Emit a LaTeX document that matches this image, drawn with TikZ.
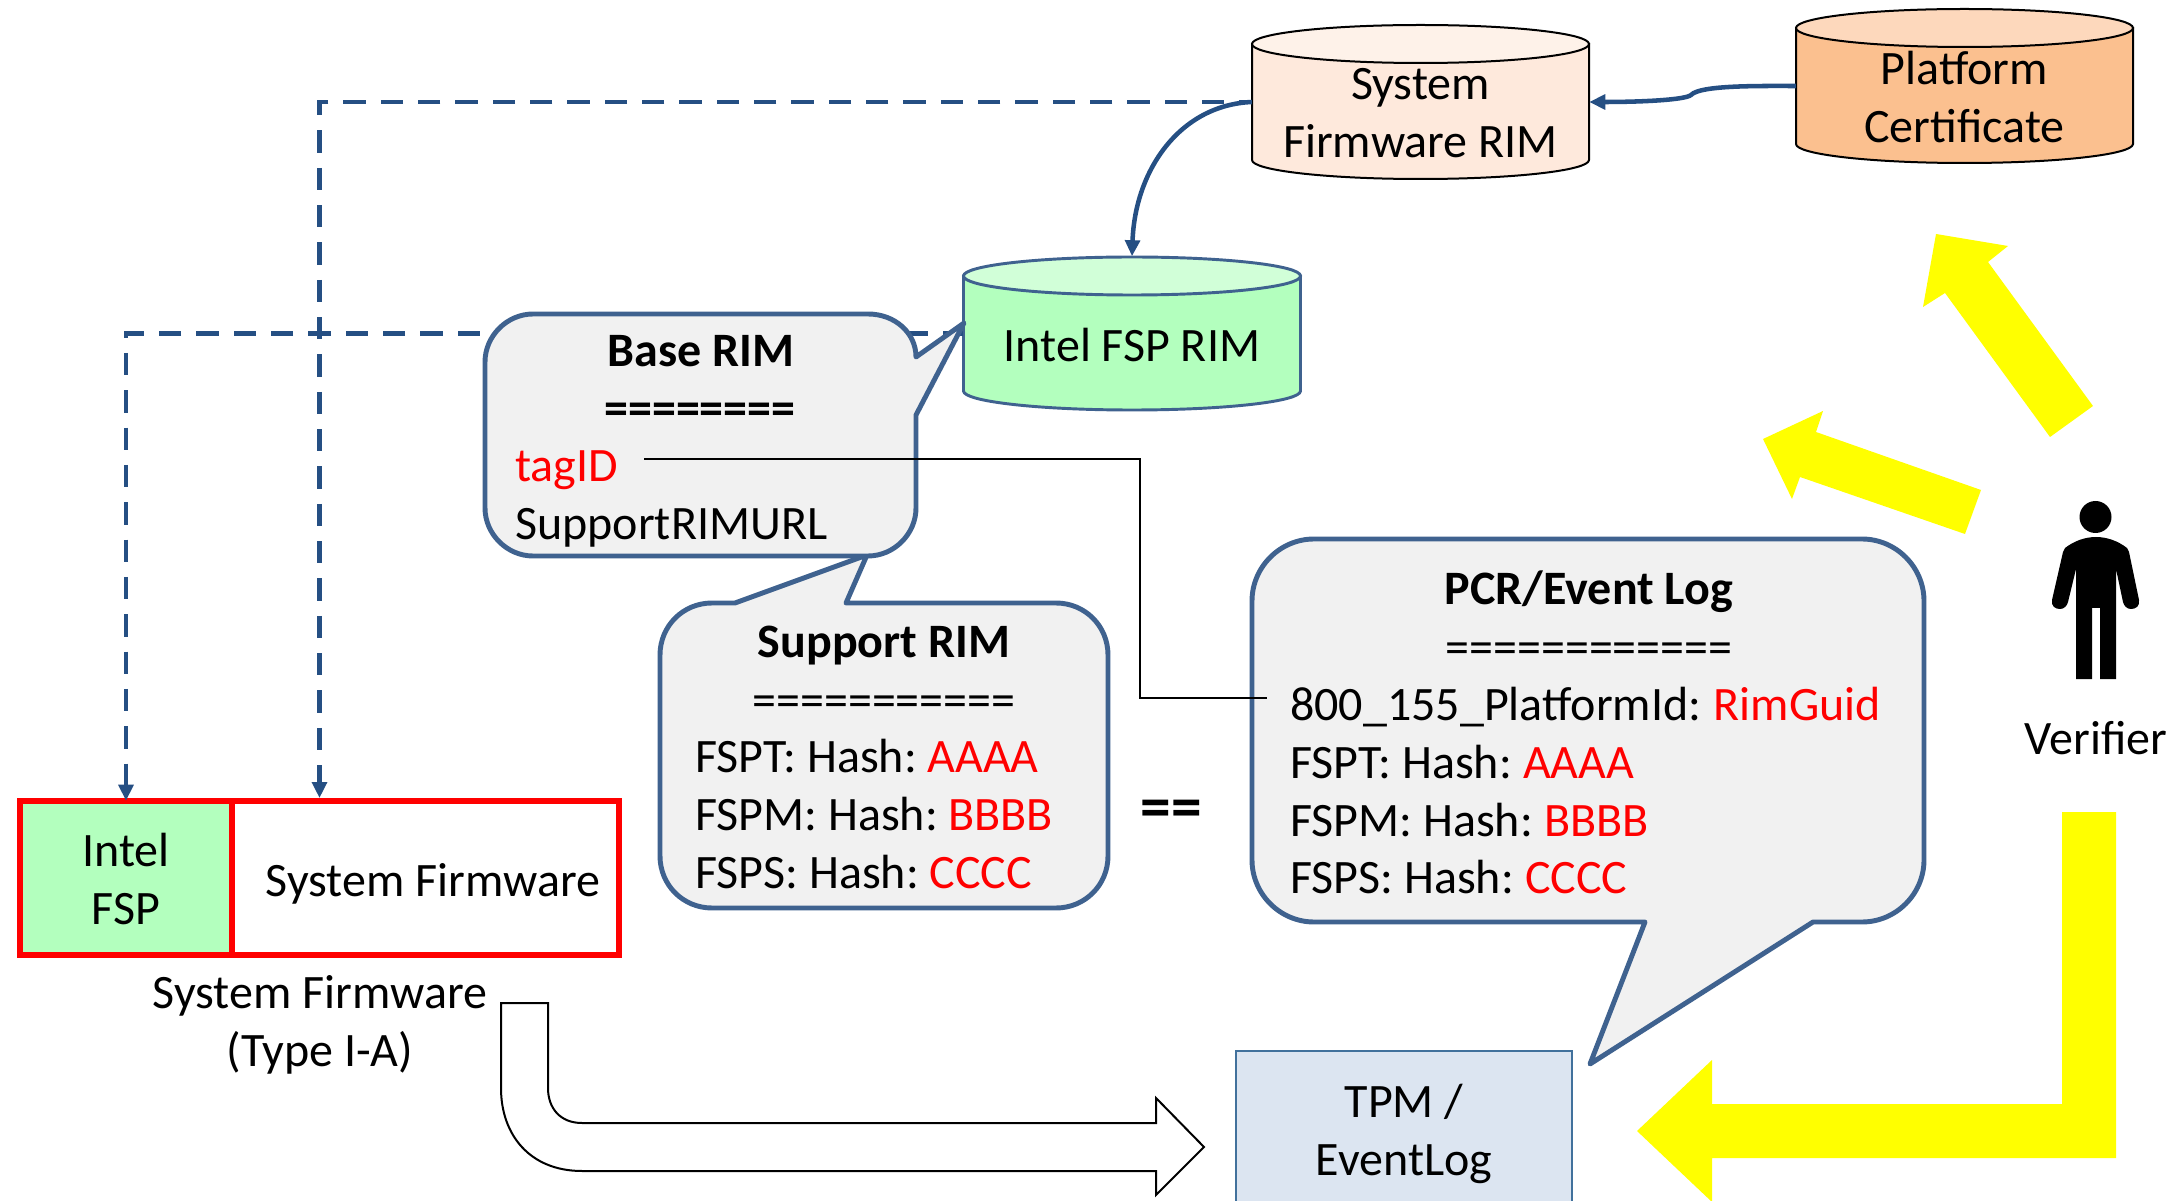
\documentclass[tikz,border=0pt]{standalone}
\usepackage{fontspec}
\setmainfont{Carlito}
\usetikzlibrary{arrows.meta}
\definecolor{navy}{HTML}{254F83}
\definecolor{calloutblue}{HTML}{3F628F}
\definecolor{calloutfill}{HTML}{F1F1F1}
\definecolor{fspgreen}{HTML}{B3FFBE}
\definecolor{fsptop}{HTML}{D1FFD8}
\definecolor{sysbody}{HTML}{FEE9DC}
\definecolor{systop}{HTML}{FEF2E9}
\definecolor{platbody}{HTML}{FBC08F}
\definecolor{plattop}{HTML}{FDD8BC}
\definecolor{tpmfill}{HTML}{DCE5F1}
\definecolor{tpmline}{HTML}{41719C}
\definecolor{hotyellow}{HTML}{FFFF00}
\tikzset{
  tx/.style={font=\fontsize{36}{43.5}\selectfont,inner sep=0pt,text=black},
  line west/.style={tx,anchor=mid west},
  line mid/.style={tx,anchor=mid},
  callout/.style={draw=calloutblue,fill=calloutfill,line width=3.7pt,line join=round},
  cylbox/.style={minimum width=252.75pt,minimum height=115.5pt,inner sep=0pt,draw=none},
  dashlink/.style={draw=navy,line width=3.4pt,-{Triangle[length=12pt,width=11pt]}},
  solidlink/.style={draw=navy,line width=3.4pt,-{Triangle[length=12pt,width=11pt]}},
  fwbox/.style={minimum height=115.5pt,inner sep=0pt},
  fwline/.style={draw=red,line width=4.4pt},
  yarrow/.style={fill=hotyellow,draw=none},
}
\newcommand{\red}[1]{\textcolor{red}{#1}}
% name, cx, top, bottom, body, end, stroke, stroke width, text
\newcommand{\cylnode}[9]{%
  \path[fill=#5,draw=#7,line width=#8] (#2-168.5,#3+19) -- (#2-168.5,#4-19)
    .. controls (#2-168.5,#4-8.5) and (#2-93,#4) .. (#2,#4)
    .. controls (#2+93,#4) and (#2+168.5,#4-8.5) .. (#2+168.5,#4-19)
    -- (#2+168.5,#3+19) -- cycle;
  \path[fill=#6,draw=#7,line width=#8] (#2-168.5,#3+19)
    .. controls (#2-168.5,#3+8.5) and (#2-93,#3) .. (#2,#3)
    .. controls (#2+93,#3) and (#2+168.5,#3+8.5) .. (#2+168.5,#3+19)
    .. controls (#2+168.5,#3+29.5) and (#2+93,#3+38) .. (#2,#3+38)
    .. controls (#2-93,#3+38) and (#2-168.5,#3+29.5) .. (#2-168.5,#3+19) -- cycle;
  \node[cylbox] (#1) at (#2,{(#3+#4)/2}) {};
  \node[tx,align=center] (#1text) at (#2,{(#3+#4)/2+11.5}) {#9};
}
\begin{document}
\begin{tikzpicture}[x=0.75pt,y=-0.75pt]
\useasboundingbox (0,0) rectangle (2175,1201);
\clip (0,0) rectangle (2175,1201);
\fill[white] (0,0) rectangle (2175,1201);

% firmware block
\node[fwbox,fill=fspgreen,minimum width=159pt,tx] (fsp) at (126,878) {};
\node[tx,align=center] (fsptext) at (126,879) {Intel\\FSP};
\node[fwbox,minimum width=449.25pt,fwline] (fw) at (319.5,878) {};
\draw[fwline] (232,801) -- (232,955);
\node[line mid] (fwtext) at (433,893) {System Firmware};
\node[tx,align=center] (fwcaption) at (320,1025) {System Firmware\\(Type I-A)};

% cylinders
\cylnode{sysrim}{1420.5}{25}{179}{sysbody}{systop}{black}{1.5pt}{System\\Firmware RIM}
\cylnode{platcert}{1964.5}{9}{163}{platbody}{plattop}{black}{1.5pt}{Platform\\Certificate}
\cylnode{fsprim}{1132}{257}{410}{fspgreen}{fsptop}{calloutblue}{2.2pt}{Intel FSP RIM}

% connectors behind call-outs
\draw[dashlink,dash pattern=on 16.7pt off 11.3pt,dash phase=7.5pt] (sysrim.west) -| (fw.north);
\draw[dashlink,dash pattern=on 16.7pt off 11.3pt,dash phase=1.5pt] (fsprim.west) -| (fsp.north);
\draw[solidlink] (sysrim.west) .. controls (1180,105) and (1135,170) .. (fsprim.north);
\draw[solidlink] (platcert.west) .. controls (1760,86) and (1700,85) .. (1691,95)
   .. controls (1685,100) and (1640,102) .. (sysrim.east);

% call-outs
\path[callout] (846,603) -- (1056,603) .. controls (1085,603) and (1108,626) .. (1108,655)
   -- (1108,856) .. controls (1108,885) and (1085,908) .. (1056,908)
   -- (712,908) .. controls (683,908) and (660,885) .. (660,856)
   -- (660,655) .. controls (660,626) and (683,603) .. (712,603)
   -- (735,603) -- (867,555) -- cycle;
\path[callout] (916,415) -- (916,508) .. controls (916,534) and (894,556) .. (868,556)
   -- (533,556) .. controls (507,556) and (485,534) .. (485,508)
   -- (485,362) .. controls (485,336) and (507,314) .. (533,314)
   -- (868,314) .. controls (895,314) and (916,333) .. (916,357) -- (964,323) -- cycle;
\path[callout] (1813,922) -- (1862,922) .. controls (1896,922) and (1924,894) .. (1924,860)
   -- (1924,601) .. controls (1924,567) and (1896,539) .. (1862,539)
   -- (1314,539) .. controls (1280,539) and (1252,567) .. (1252,601)
   -- (1252,860) .. controls (1252,894) and (1280,922) .. (1314,922)
   -- (1645,922) -- (1590,1064) -- cycle;

% Base RIM text
\node[line mid] (basetitle) at (701,363) {\bfseries Base RIM};
\node[line mid] (baserule) at (700,421) {\bfseries ========};
\node[line west] (tagid) at (515,478) {\red{tagID}};
\node[line west] (supporturl) at (515,536) {SupportRIMURL};

% Support RIM text
\node[line mid] (supptitle) at (884,654) {\bfseries Support RIM};
\node[line mid] (supprule) at (884,713) {===========};
\node[line west] (suppa) at (695,769) {FSPT: Hash:\kern-3pt{} \red{AAAA}};
\node[line west] (suppb) at (695,827) {FSPM: Hash:\kern-3pt{} \red{BBBB}};
\node[line west] (suppc) at (695,885) {FSPS: Hash:\kern-3pt{} \red{CCCC}};

% PCR text
\node[line mid] (pcrtitle) at (1589,601) {\bfseries PCR/Event Log};
\node[line mid] (pcrrule) at (1589,660) {============};
\node[line west] (pcrid) at (1290,717) {800\_155\_PlatformId:\kern-1.5pt{} \red{RimGuid}};
\node[line west] (pcra) at (1290,775) {FSPT: Hash:\kern-2.5pt{} \red{AAAA}};
\node[line west] (pcrb) at (1290,833) {FSPM: Hash:\kern-2.5pt{} \red{BBBB}};
\node[line west] (pcrc) at (1290,890) {FSPS: Hash:\kern-2.5pt{} \red{CCCC}};

\node[tx,font=\fontsize{46}{50}\selectfont\bfseries] (equals) at (1171,814) {==};

% tagID link
\coordinate (tagstart) at (644,459);
\coordinate (pcrend) at (1267,698);
\draw[black,line width=1.5pt] (tagstart) -- (1140,459) -- (1140,698) -- (pcrend);

% TPM
\node[tx,draw=tpmline,fill=tpmfill,line width=2.2pt,minimum width=252pt,minimum height=124.5pt,align=center] (tpm) at (1404,1134) {TPM /\\EventLog};

% hollow arrow
\path[draw=black,fill=white,line width=1.5pt,line join=miter] (501,1003) -- (548,1003) -- (548,1088)
   .. controls (548,1108) and (560,1123) .. (582,1123) -- (1156,1123) -- (1156,1098) -- (1204,1147)
   -- (1156,1195) -- (1156,1171) -- (582,1171)
   .. controls (530,1171) and (501,1135) .. (501,1088) -- cycle;

% yellow arrows
\path[yarrow] (1936,234) -- (2008,246) -- (1988,262) -- (2093,406) -- (2050,437) -- (1945,293) -- (1923,307) -- cycle;
\path[yarrow] (1763,439) -- (1823,411) -- (1816,432) -- (1981,490) -- (1965,534) -- (1800,477) -- (1792,499) -- cycle;
\path[yarrow] (2062,812) -- (2116,812) -- (2116,1158) -- (1712,1158) -- (1712,1202) -- (1637,1131) -- (1712,1060) -- (1712,1104) -- (2062,1104) -- cycle;

% verifier
\fill[black] (2095.5,517) circle[radius=12pt];
\path[fill=black] (2065,548) .. controls (2074,541) and (2085,537) .. (2096,537)
  .. controls (2107,537) and (2118,541) .. (2127,548) -- (2129,552) -- (2139,600)
  .. controls (2140,606) and (2136,609) .. (2131,609) .. controls (2127,609) and (2124,606) .. (2123,602)
  -- (2116,569) -- (2116,679) -- (2100,679) -- (2100,608) -- (2092,608) -- (2092,679) -- (2076,679) -- (2076,569)
  -- (2068,602) .. controls (2067,606) and (2064,609) .. (2060,609) .. controls (2055,609) and (2051,606) .. (2052,600)
  -- (2063,552) -- cycle;
\node[line mid] (verifier) at (2096,751) {Verifier};
\end{tikzpicture}
\end{document}
